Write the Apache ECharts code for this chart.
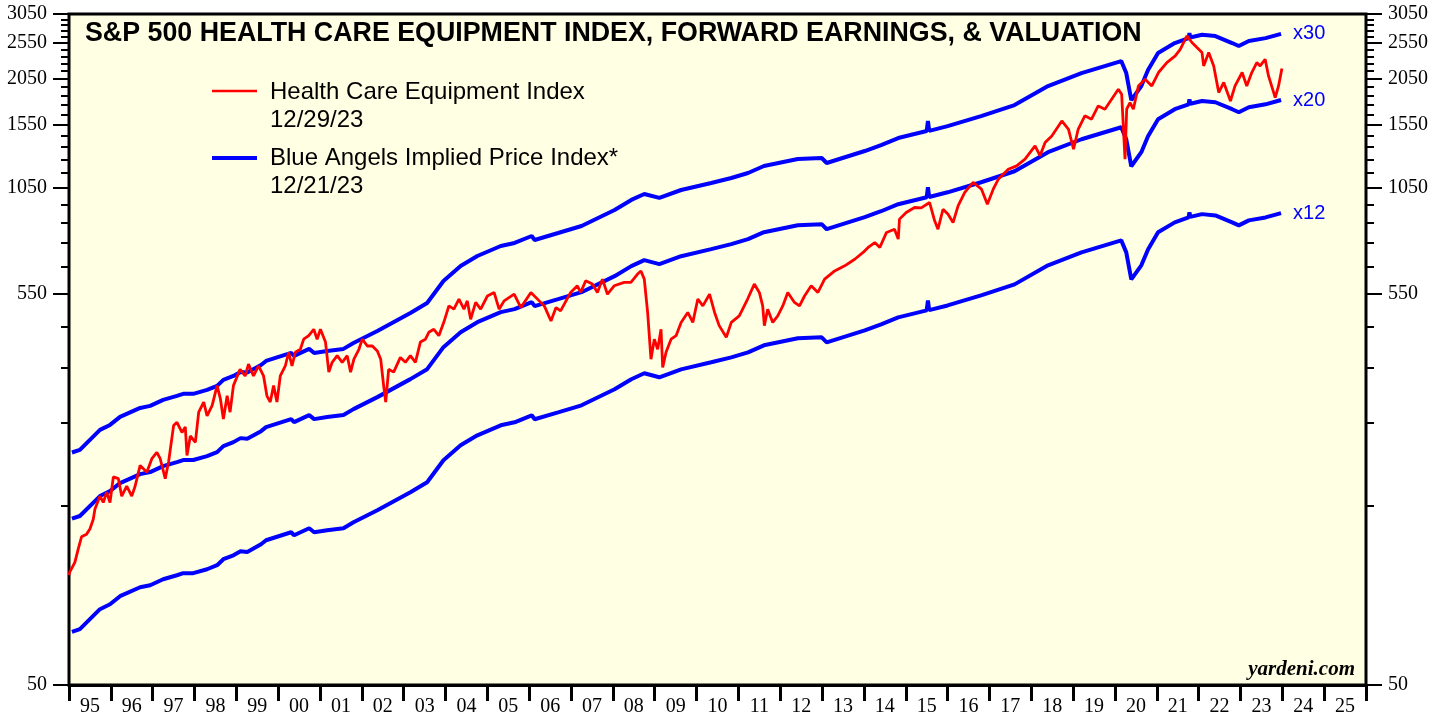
<!DOCTYPE html>
<html lang="en">
<head>
<meta charset="UTF-8">
<title>S&amp;P 500 Health Care Equipment Index</title>
<script src="https://cdn.jsdelivr.net/npm/echarts@6/dist/echarts.min.js"></script>
<style>
  html, body { margin: 0; padding: 0; background: #fff; }
  #main { width: 1446px; height: 717px; }
</style>
</head>
<body>
<div id="main"></div>
<script>
// year labels under the x axis, one per calendar year
var yearLabels = ['95','96','97','98','99','00','01','02','03','04','05','06','07','08','09','10',
                  '11','12','13','14','15','16','17','18','19','20','21','22','23','24','25'];

// log scale ticks as printed on both sides
var majorTicks = [50, 550, 1050, 1550, 2050, 2550, 3050];
var minorTicks = [150, 250, 350, 450, 650, 750, 850, 950, 1150, 1250, 1350, 1450,
                  1650, 1750, 1850, 1950, 2150, 2250, 2350, 2450, 2650, 2750, 2850, 2950];

// S&P 500 Health Care Equipment Index [year, value]
var healthCareIndex = [
  [1995.00, 98], [1995.02, 100], [1995.14, 106], [1995.22, 115], [1995.30, 124], [1995.42, 126],
  [1995.50, 130], [1995.58, 138], [1995.62, 147], [1995.74, 159], [1995.82, 153], [1995.90, 163],
  [1995.98, 153], [1996.06, 179], [1996.18, 177], [1996.26, 159], [1996.38, 169], [1996.50, 159],
  [1996.58, 169], [1996.70, 192], [1996.86, 184], [1996.98, 200], [1997.10, 208], [1997.18, 200],
  [1997.30, 177], [1997.38, 196], [1997.50, 245], [1997.58, 250], [1997.70, 235], [1997.78, 243],
  [1997.82, 204], [1997.90, 230], [1998.02, 221], [1998.10, 266], [1998.22, 283], [1998.30, 260],
  [1998.42, 277], [1998.54, 313], [1998.62, 288], [1998.69, 255], [1998.78, 294], [1998.85, 266],
  [1998.93, 313], [1999.09, 346], [1999.21, 332], [1999.29, 357], [1999.41, 332], [1999.53, 353],
  [1999.65, 332], [1999.73, 294], [1999.81, 283], [1999.89, 313], [1999.97, 283], [2000.05, 332],
  [2000.17, 353], [2000.25, 384], [2000.33, 353], [2000.41, 384], [2000.53, 391], [2000.61, 416],
  [2000.73, 425], [2000.85, 442], [2000.93, 416], [2001.01, 442], [2001.13, 409], [2001.21, 340],
  [2001.29, 361], [2001.41, 376], [2001.53, 361], [2001.65, 376], [2001.73, 340], [2001.81, 368],
  [2001.93, 391], [2002.01, 416], [2002.13, 399], [2002.25, 399], [2002.37, 387], [2002.45, 368],
  [2002.52, 313], [2002.57, 283], [2002.64, 346], [2002.76, 340], [2002.92, 372], [2003.04, 361],
  [2003.16, 376], [2003.28, 361], [2003.40, 409], [2003.52, 416], [2003.60, 434], [2003.72, 442],
  [2003.84, 425], [2003.96, 462], [2004.08, 510], [2004.20, 500], [2004.32, 532], [2004.44, 500],
  [2004.52, 526], [2004.60, 470], [2004.72, 521], [2004.84, 500], [2005.00, 542], [2005.16, 554],
  [2005.28, 500], [2005.40, 526], [2005.64, 548], [2005.80, 505], [2006.04, 554], [2006.24, 526],
  [2006.36, 510], [2006.52, 465], [2006.64, 505], [2006.75, 495], [2006.99, 554], [2007.15, 577],
  [2007.23, 554], [2007.35, 595], [2007.51, 583], [2007.63, 554], [2007.75, 601], [2007.87, 548],
  [2008.03, 577], [2008.27, 589], [2008.43, 589], [2008.59, 620], [2008.67, 632], [2008.75, 601],
  [2008.83, 490], [2008.91, 368], [2008.99, 416], [2009.07, 391], [2009.15, 442], [2009.19, 350],
  [2009.27, 384], [2009.39, 416], [2009.51, 425], [2009.63, 461], [2009.79, 490], [2009.91, 461],
  [2010.03, 532], [2010.15, 510], [2010.31, 548], [2010.43, 490], [2010.54, 452], [2010.71, 421],
  [2010.83, 461], [2011.02, 480], [2011.22, 532], [2011.38, 583], [2011.50, 554], [2011.58, 510],
  [2011.62, 452], [2011.70, 500], [2011.82, 461], [2011.94, 480], [2012.06, 510], [2012.18, 554],
  [2012.34, 521], [2012.46, 510], [2012.58, 542], [2012.74, 577], [2012.90, 554], [2013.06, 601],
  [2013.30, 632], [2013.54, 652], [2013.78, 679], [2013.98, 708], [2014.10, 730], [2014.26, 752],
  [2014.38, 730], [2014.54, 800], [2014.73, 816], [2014.82, 768], [2014.85, 868], [2015.01, 904],
  [2015.21, 932], [2015.37, 930], [2015.57, 961], [2015.69, 859], [2015.77, 816], [2015.89, 922],
  [2016.01, 894], [2016.13, 850], [2016.25, 941], [2016.41, 1022], [2016.61, 1087], [2016.81, 1043],
  [2016.95, 951], [2017.09, 1043], [2017.21, 1108], [2017.45, 1178], [2017.65, 1203], [2017.85, 1253],
  [2018.09, 1360], [2018.21, 1279], [2018.33, 1388], [2018.49, 1445], [2018.73, 1584], [2018.89, 1505],
  [2019.01, 1332], [2019.12, 1505], [2019.28, 1634], [2019.44, 1601], [2019.60, 1737], [2019.76, 1702],
  [2019.92, 1809], [2020.08, 1924], [2020.16, 1866], [2020.24, 1253], [2020.28, 1702], [2020.36, 1773],
  [2020.44, 1702], [2020.56, 1963], [2020.72, 2045], [2020.88, 1963], [2021.04, 2131], [2021.24, 2265],
  [2021.44, 2359], [2021.56, 2457], [2021.72, 2666], [2021.84, 2561], [2021.96, 2483], [2022.08, 2408],
  [2022.12, 2219], [2022.24, 2408], [2022.36, 2219], [2022.48, 1885], [2022.60, 2005], [2022.76, 1790],
  [2022.87, 1963], [2023.04, 2131], [2023.15, 1963], [2023.27, 2131], [2023.39, 2265], [2023.47, 2219],
  [2023.59, 2312], [2023.67, 2087], [2023.83, 1828], [2023.91, 1963], [2023.99, 2183]
];

// Blue Angels implied price index, x20 band [year, value]
var impliedX20 = [
  [1995.07, 138.5], [1995.26, 140.8], [1995.74, 159.1], [1995.98, 164.0], [1996.22, 172.3],
  [1996.70, 182.0], [1996.94, 184.3], [1997.25, 191.2], [1997.58, 195.9], [1997.73, 198.4],
  [1997.97, 198.4], [1998.30, 203.2], [1998.54, 208.3], [1998.69, 216.1], [1998.93, 221.4],
  [1999.10, 226.9], [1999.26, 226.0], [1999.59, 236.8], [1999.71, 242.7], [2000.31, 254.9],
  [2000.38, 250.3], [2000.74, 261.3], [2000.86, 254.9], [2001.17, 258.1], [2001.56, 261.3],
  [2001.80, 271.0], [2002.37, 291.7], [2003.16, 325.7], [2003.56, 346.2], [2003.95, 396.2],
  [2004.36, 434.2], [2004.76, 461.6], [2005.32, 490.9], [2005.65, 500.0], [2006.06, 521.9],
  [2006.13, 509.3], [2006.69, 531.5], [2007.25, 554.8], [2008.04, 612.0], [2008.44, 650.9],
  [2008.75, 675.1], [2009.11, 658.9], [2009.63, 691.7], [2010.35, 722.1], [2010.83, 744.5],
  [2011.23, 767.7], [2011.61, 801.3], [2012.42, 836.4], [2012.99, 841.4], [2013.11, 816.0],
  [2014.02, 878.3], [2014.41, 911.0], [2014.82, 951.0], [2015.50, 992.7], [2015.53, 1055],
  [2015.56, 994], [2016.00, 1023], [2016.80, 1088], [2017.60, 1164], [2018.40, 1308],
  [2019.20, 1416], [2020.15, 1524], [2020.27, 1416], [2020.39, 1200], [2020.43, 1186],
  [2020.63, 1308], [2020.79, 1442], [2021.03, 1601], [2021.43, 1702], [2021.76, 1754],
  [2021.78, 1809], [2021.80, 1760], [2022.08, 1790], [2022.40, 1776], [2022.80, 1702],
  [2022.96, 1671], [2023.20, 1723], [2023.60, 1754], [2023.97, 1801]
];

// the three bands as drawn, relative to the x20 band
var bandNames = ['x30', 'x20', 'x12'];
var bandFactors = [1.5, 1, 0.5];

var LOG_MIN = Math.log10(50);
var LOG_MAX = Math.log10(3050);
var SERIF = 'Liberation Serif';
var SANS = 'Liberation Sans';

function tickAxis(position, values, len, withLabels) {
    var logs = values.map(function (v) { return Math.log10(v); });
    return {
        type: 'value',
        position: position,
        min: LOG_MIN,
        max: LOG_MAX,
        axisLine: { show: false },
        splitLine: { show: false },
        axisTick: { show: true, length: len, customValues: logs, lineStyle: { color: '#000', width: 2 } },
        axisLabel: withLabels ? {
            show: true,
            customValues: logs,
            margin: 22,
            color: '#000',
            fontFamily: SERIF,
            fontSize: 20,
            formatter: function (v) { return String(Math.round(Math.pow(10, v))); }
        } : { show: false }
    };
}

var myChart = echarts.init(document.getElementById('main'));

var series = bandNames.map(function (name, i) {
    return {
        name: name,
        type: 'line',
        xAxisIndex: 0,
        yAxisIndex: 0,
        showSymbol: false,
        data: impliedX20.map(function (p) { return [p[0], p[1] * bandFactors[i]]; }),
        lineStyle: { color: '#0000ff', width: 4 },
        endLabel: { show: true, formatter: name, color: '#0000ff', fontFamily: SANS, fontSize: 20, distance: 12 }
    };
});
series.push({
    name: 'Health Care Equipment Index',
    type: 'line',
    xAxisIndex: 0,
    yAxisIndex: 0,
    showSymbol: false,
    data: healthCareIndex,
    lineStyle: { color: '#ff0000', width: 2.8 }
});

var option = {
    animation: false,
    backgroundColor: '#ffffff',
    title: {
        text: 'S&P 500 HEALTH CARE EQUIPMENT INDEX, FORWARD EARNINGS, & VALUATION',
        left: 85,
        top: 20,
        padding: 0,
        textStyle: { fontFamily: SANS, fontWeight: 'bold', fontSize: 26.8, color: '#000' }
    },
    grid: {
        left: 69, right: 80, top: 14, bottom: 31,
        show: true,
        backgroundColor: '#ffffe3',
        borderColor: '#000',
        borderWidth: 3
    },
    xAxis: [
        { type: 'value', min: 1995, max: 2026, show: false },
        {
            type: 'category',
            data: yearLabels,
            position: 'bottom',
            boundaryGap: true,
            axisLine: { show: true, lineStyle: { color: '#000', width: 3 } },
            axisTick: { show: true, alignWithLabel: false, interval: 0, length: 16, lineStyle: { color: '#000', width: 3 } },
            axisLabel: { show: true, margin: 12, color: '#000', fontFamily: SERIF, fontSize: 20, interval: 0 },
            splitLine: { show: false }
        }
    ],
    yAxis: [
        { type: 'log', min: 50, max: 3050, show: false },
        tickAxis('left', majorTicks, 16, true),
        tickAxis('left', minorTicks, 8, false),
        tickAxis('right', majorTicks, 16, true),
        tickAxis('right', minorTicks, 8, false)
    ],
    graphic: [
        { type: 'line', shape: { x1: 212, y1: 91, x2: 257, y2: 91 }, style: { stroke: '#ff0000', lineWidth: 2.5 } },
        { type: 'text', x: 270, y: 78, style: { text: 'Health Care Equipment Index\n12/29/23', font: '24px "Liberation Sans"', lineHeight: 28, fill: '#000' } },
        { type: 'line', shape: { x1: 212, y1: 158, x2: 257, y2: 158 }, style: { stroke: '#0000ff', lineWidth: 4 } },
        { type: 'text', x: 270, y: 144, style: { text: 'Blue Angels Implied Price Index*\n12/21/23', font: '24px "Liberation Sans"', lineHeight: 28, fill: '#000' } },
        { type: 'text', x: 1355, y: 670, style: { text: 'yardeni.com', font: 'italic bold 21px "Liberation Serif"', textAlign: 'right', textVerticalAlign: 'middle', fill: '#000' } }
    ],
    series: series
};

myChart.setOption(option);
</script>
</body>
</html>
